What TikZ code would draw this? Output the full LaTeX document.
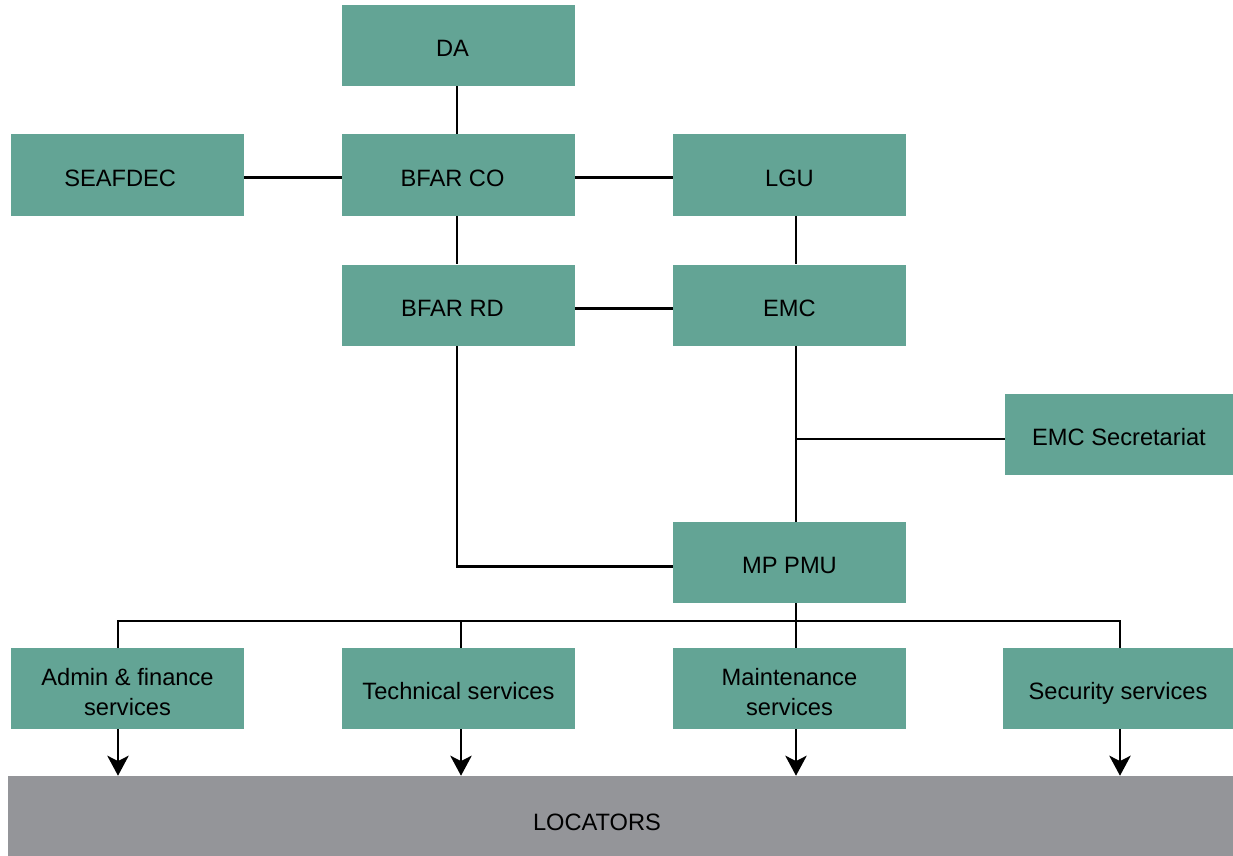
\documentclass[tikz,border=0pt]{standalone}
\usepackage{fontspec}
\setmainfont{Liberation Sans}
\usetikzlibrary{arrows.meta}
\definecolor{orgteal}{HTML}{63A495}
\definecolor{orggrey}{HTML}{949599}
\tikzset{
  unit/.style={fill=orgteal, draw=none, minimum width=174.75pt, minimum height=60.75pt, inner sep=1pt, align=center,
    text height=17pt, text depth=0pt, font=\fontsize{17.75}{22}\selectfont},
  twoline/.style={text height=40pt, text depth=0pt},
  link/.style={line width=1.9pt, black},
  feed/.style={line width=1.9pt, black, -{Stealth[length=15pt, width=16pt, inset=4pt]}}
}
\begin{document}
\begin{tikzpicture}[x=0.75pt, y=-0.75pt]
  \useasboundingbox (0,0) rectangle (1233,856);
  % top
  \node[unit] (da) at (458.5,45.5) {\hspace*{-9pt}DA};
  \node[unit] (seafdec) at (127.5,175) {\hspace*{-11pt}SEAFDEC};
  \node[unit] (bfarco) at (458.5,175) {\hspace*{-9pt}BFAR CO};
  \node[unit] (lgu) at (789.5,175) {LGU};
  \node[unit] (bfarrd) at (458.5,305) {\hspace*{-9pt}BFAR RD};
  \node[unit] (emc) at (789.5,305) {EMC};
  \node[unit, minimum width=171pt] (emcsec) at (1119,434.5) {EMC Secretariat};
  \node[unit] (pmu) at (789.5,562.5) {MP PMU};
  % services
  \node[unit, twoline] (admin) at (127.5,688.5) {Admin \& finance\\services};
  \node[unit] (tech) at (458.5,688.5) {Technical services};
  \node[unit, twoline] (maint) at (789.5,688.5) {Maintenance\\services};
  \node[unit, minimum width=172.5pt] (secur) at (1118,688.5) {Security services};
  \node[fill=orggrey, minimum width=918.75pt, minimum height=60pt, inner sep=0pt] (loc) at (620.5,816) {};
  \node[font=\fontsize{17.75}{22}\selectfont] (loclabel) at (597,822) {LOCATORS};
  % columns
  \coordinate (colL) at (457,0);
  \coordinate (colR) at (796,0);
  \coordinate (bus) at (0,621);
  \coordinate (secy) at (0,439);
  % links
  \draw[link] (da.south -| colL) -- (bfarco.north -| colL);
  \draw[link] ([yshift=-1.8pt]seafdec.east) -- ([yshift=-1.8pt]bfarco.west);
  \draw[link] ([yshift=-1.8pt]bfarco.east) -- ([yshift=-1.8pt]lgu.west);
  \draw[link] (bfarco.south -| colL) -- (bfarrd.north -| colL);
  \draw[link] ([yshift=-2.6pt]bfarrd.east) -- ([yshift=-2.6pt]emc.west);
  \draw[link] (lgu.south -| colR) -- (emc.north -| colR);
  \draw[link] (emc.south -| colR) -- (pmu.north -| colR);
  \draw[link] (secy -| colR) -- (emcsec.west |- secy);
  \draw[link] (bfarrd.south -| colL) |- ([yshift=-3pt]pmu.west);
  \draw[link] (pmu.south -| colR) -- (bus -| colR);
  \draw[link] (admin.north -| 118,0) |- (bus -| 1120,0) -- (secur.north -| 1120,0);
  \draw[link] (bus -| 461,0) -- (tech.north -| 461,0);
  \draw[link] (bus -| colR) -- (maint.north -| colR);
  % to locators
  \draw[feed] (admin.south -| 118,0) -- (loc.north -| 118,0);
  \draw[feed] (tech.south -| 461,0) -- (loc.north -| 461,0);
  \draw[feed] (maint.south -| colR) -- (loc.north -| colR);
  \draw[feed] (secur.south -| 1120,0) -- (loc.north -| 1120,0);
\end{tikzpicture}
\end{document}
